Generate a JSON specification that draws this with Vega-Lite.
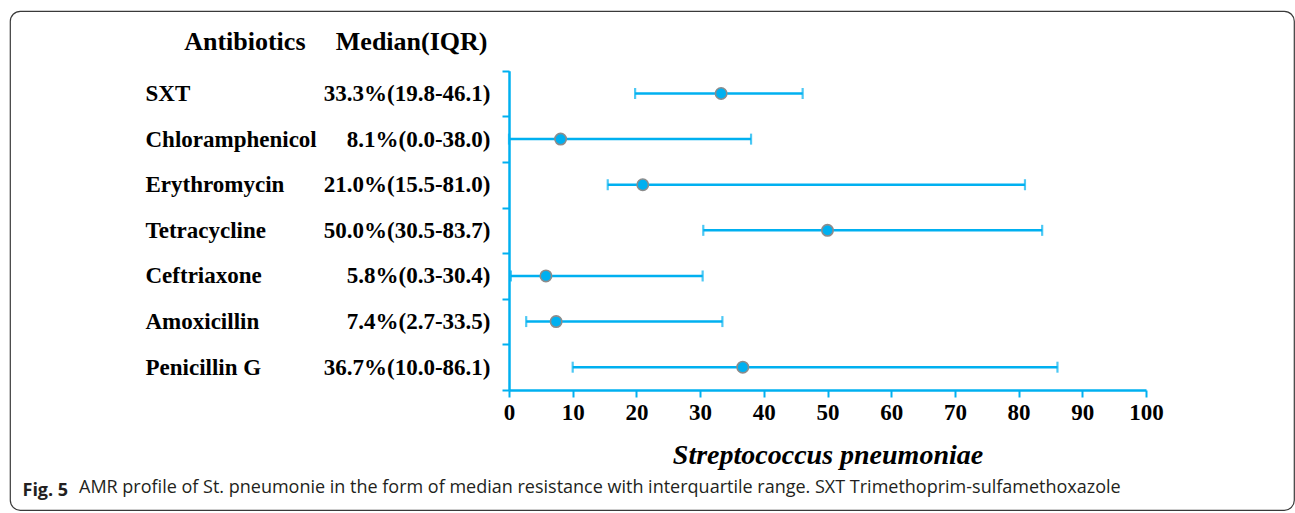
{
  "$schema": "https://vega.github.io/schema/vega-lite/v6.json",
  "autosize": {"type": "none"},
  "padding": {"left": 10, "top": 11, "right": 1, "bottom": 3},
  "width": 1284,
  "height": 499,
  "background": "white",
  "config": {
    "view": {"stroke": "#3a3a3a", "strokeWidth": 1.2, "cornerRadius": 10},
    "font": "Liberation Serif"
  },
  "title": {
    "text": "AMR profile of St. pneumonie in the form of median resistance with interquartile range. SXT Trimethoprim-sulfamethoxazole",
    "orient": "bottom",
    "anchor": "start",
    "frame": "group",
    "offset": -31,
    "dx": 69,
    "font": "Open Sans",
    "fontSize": 18,
    "fontWeight": "normal",
    "color": "#231f20"
  },
  "data": {
    "values": [
      {"name": "SXT", "med": 33.3, "lo": 19.8, "hi": 46.1, "iqr": "33.3%(19.8-46.1)"},
      {"name": "Chloramphenicol", "med": 8.1, "lo": 0.0, "hi": 38.0, "iqr": "8.1%(0.0-38.0)"},
      {"name": "Erythromycin", "med": 21.0, "lo": 15.5, "hi": 81.0, "iqr": "21.0%(15.5-81.0)"},
      {"name": "Tetracycline", "med": 50.0, "lo": 30.5, "hi": 83.7, "iqr": "50.0%(30.5-83.7)"},
      {"name": "Ceftriaxone", "med": 5.8, "lo": 0.3, "hi": 30.4, "iqr": "5.8%(0.3-30.4)"},
      {"name": "Amoxicillin", "med": 7.4, "lo": 2.7, "hi": 33.5, "iqr": "7.4%(2.7-33.5)"},
      {"name": "Penicillin G", "med": 36.7, "lo": 10.0, "hi": 86.1, "iqr": "36.7%(10.0-86.1)"}
    ]
  },
  "layer": [
    {
      "encoding": {
        "y": {
          "field": "name",
          "type": "nominal",
          "sort": null,
          "scale": {"range": [59.7, 379], "paddingInner": 0, "paddingOuter": 0},
          "axis": {
            "orient": "left",
            "offset": -499,
            "domain": true,
            "domainColor": "#00B0F0",
            "domainWidth": 2.5,
            "ticks": true,
            "tickBand": "extent",
            "tickSize": 7,
            "tickWidth": 2,
            "tickColor": "#00B0F0",
            "labelAlign": "left",
            "labelPadding": 357,
            "labelFont": "Liberation Serif",
            "labelFontWeight": "bold",
            "labelFontSize": 23,
            "labelColor": "#000000",
            "labelLimit": 0,
            "grid": false,
            "title": "Antibiotics",
            "titleAngle": 0,
            "titleAlign": "right",
            "titleBaseline": "middle",
            "titleX": -204,
            "titleY": 30,
            "titleFont": "Liberation Serif",
            "titleFontWeight": "bold",
            "titleFontSize": 26,
            "titleColor": "#000000"
          }
        }
      },
      "layer": [
        {
          "mark": {"type": "rule", "color": "#00B0F0", "strokeWidth": 2.5},
          "encoding": {
            "x": {
              "field": "lo",
              "type": "quantitative",
              "scale": {"domain": [0, 100], "range": [499, 1136], "nice": false},
              "axis": {
                "orient": "bottom",
                "offset": -120,
                "values": [0, 10, 20, 30, 40, 50, 60, 70, 80, 90, 100],
                "grid": false,
                "domainColor": "#00B0F0",
                "domainWidth": 2.5,
                "tickColor": "#00B0F0",
                "tickWidth": 2,
                "tickSize": 7,
                "labelFont": "Liberation Serif",
                "labelFontWeight": "bold",
                "labelFontSize": 23,
                "labelColor": "#000000",
                "labelPadding": 4,
                "labelFlush": false,
                "title": "Streptococcus pneumoniae",
                "titleFont": "Liberation Serif",
                "titleFontWeight": "bold",
                "titleFontStyle": "italic",
                "titleFontSize": 28,
                "titleColor": "#000000",
                "titleBaseline": "alphabetic",
                "titleY": 73
              }
            },
            "x2": {"field": "hi"}
          }
        },
        {
          "mark": {"type": "tick", "orient": "vertical", "color": "#00B0F0", "size": 11, "thickness": 2.2},
          "encoding": {"x": {"field": "lo", "type": "quantitative"}}
        },
        {
          "mark": {"type": "tick", "orient": "vertical", "color": "#00B0F0", "size": 11, "thickness": 2.2},
          "encoding": {"x": {"field": "hi", "type": "quantitative"}}
        },
        {
          "mark": {"type": "point", "shape": "circle", "filled": true, "size": 130, "fill": "#00B0F0", "stroke": "#8c8c8c", "strokeWidth": 1.6, "opacity": 1},
          "encoding": {"x": {"field": "med", "type": "quantitative"}}
        }
      ]
    },
    {
      "mark": {"type": "point", "opacity": 0},
      "encoding": {
        "x": {
          "field": "med",
          "type": "quantitative",
          "scale": {"domain": [0, 100], "range": [499, 1136], "nice": false},
          "axis": {
            "orient": "bottom",
            "offset": -120,
            "domain": false,
            "ticks": false,
            "labels": false,
            "grid": false,
            "title": "Fig. 5",
            "titleX": 12,
            "titleY": 100,
            "titleAlign": "left",
            "titleBaseline": "middle",
            "titleFont": "Open Sans",
            "titleFontWeight": "bold",
            "titleFontSize": 18,
            "titleColor": "#231f20"
          }
        },
        "y": {
          "field": "iqr",
          "type": "nominal",
          "sort": null,
          "scale": {"range": [59.7, 379], "paddingInner": 0, "paddingOuter": 0},
          "axis": {
            "orient": "left",
            "offset": -499,
            "domain": false,
            "ticks": false,
            "labelAlign": "right",
            "labelPadding": 19,
            "labelFont": "Liberation Serif",
            "labelFontWeight": "bold",
            "labelFontSize": 23,
            "labelColor": "#000000",
            "labelLimit": 0,
            "grid": false,
            "title": "Median(IQR)",
            "titleAngle": 0,
            "titleAlign": "right",
            "titleBaseline": "middle",
            "titleX": -22,
            "titleY": 30,
            "titleFont": "Liberation Serif",
            "titleFontWeight": "bold",
            "titleFontSize": 26,
            "titleColor": "#000000"
          }
        }
      }
    }
  ],
  "resolve": {"scale": {"y": "independent", "x": "independent"}, "axis": {"y": "independent", "x": "independent"}}
}
